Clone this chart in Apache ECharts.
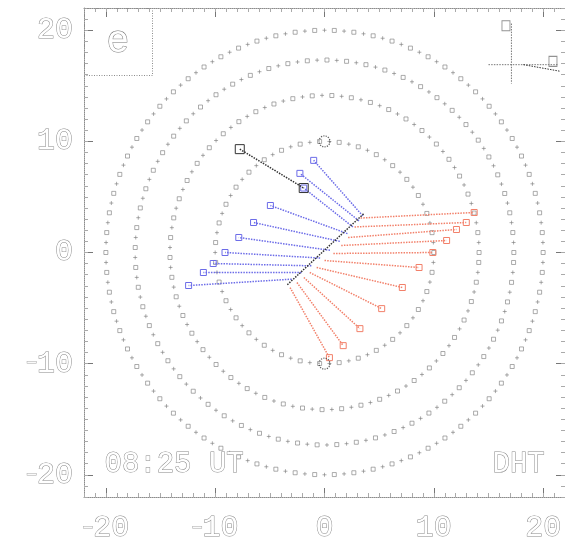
<!DOCTYPE html>
<html>
<head>
<meta charset="utf-8">
<script src="https://cdn.jsdelivr.net/npm/echarts@6/dist/echarts.min.js"></script>
<style>
  html, body { margin: 0; padding: 0; background: #fff; }
  #chart { width: 565px; height: 547px; }
</style>
</head>
<body>
<div id="chart"></div>
<script>
// Axis extent and tick values
const axisMin = -22;
const axisMax = 22;
const majorTicks = [-20, -10, 0, 10, 20];

// Reference circles (radius)
const circleRadii = [10, 14.14, 17.32, 20];

// Central black segment
const diagX = [-3.4, 3.6];
const diagY = [-2.9, 3.5];

// Upper black segment
const upperX = [-7.75, -1.9];
const upperY = [9.3, 5.8];

// Marked points on the inner circle
const poleX = [0, 0];
const poleY = [10, -10];

// Blue traces: start on the central segment, end to the left
const blueStartX = [3.5, 3.15, 2.6, 2.1, 1.4, 0.5, -0.4, -1.2, -2.1, -3.0];
const blueStartY = [3.3, 2.85, 2.3, 1.7, 1.0, 0.2, -0.5, -1.2, -1.8, -2.4];
const blueEndX = [-0.99, -2.25, -1.9, -4.95, -6.49, -7.84, -9.10, -10.18, -11.08, -12.43];
const blueEndY = [8.29, 7.12, 5.8, 4.23, 2.70, 1.35, 0.0, -0.99, -1.80, -2.97];

// Red traces: start on the central segment, end to the right
const redStartX = [3.3, 2.75, 2.16, 1.53, 0.81, 0.0, -0.72, -1.35, -1.89, -2.52, -3.15];
const redStartY = [3.1, 2.3, 1.35, 0.63, -0.09, -0.72, -1.35, -1.80, -2.25, -2.70, -3.15];
const redEndX = [13.69, 12.97, 12.07, 11.17, 9.91, 8.65, 7.12, 5.23, 3.24, 1.71, 0.45];
const redEndY = [3.60, 2.70, 2.07, 1.08, 0.0, -1.35, -3.15, -5.05, -6.85, -8.38, -9.46];

// Orientation cross, upper right
const crossVX = [17.1, 17.1];
const crossVY = [20.6, 15.2];
const crossHX = [15.0, 21.4];
const crossHY = [16.9, 16.9];
const crossTipX = [18.2, 21.6];
const crossTipY = [16.9, 16.3];

const minorTicks = [];
for (let v = axisMin; v <= axisMax; v++) minorTicks.push(v);

const FONT = 'Liberation Mono';
const hollow = { color: '#fff', textBorderColor: '#8a8a8a', textBorderWidth: 1, fontFamily: FONT };
const frameColor = '#8c8c8c';

function tickLabel(v) {
  if (v < 0) return '{m|\u2212}{d|' + Math.abs(v) + '}';
  return '{d|' + v + '}';
}
const labelRich = {
  d: Object.assign({ fontSize: 30 }, hollow),
  m: Object.assign({ fontSize: 18, color: '#fff', textBorderColor: '#aaa', textBorderWidth: 1, fontFamily: FONT })
};

function makeAxis(kind, pos, major) {
  const a = {
    type: 'value', min: axisMin, max: axisMax, position: pos,
    splitLine: { show: false },
    axisLine: { show: major, onZero: false, lineStyle: { color: frameColor, width: 1, type: 'dotted' } },
    axisTick: {
      show: true, inside: true,
      length: major ? 9 : 4,
      customValues: major ? majorTicks : minorTicks,
      lineStyle: { color: major ? '#777' : '#aaa', width: 1 }
    },
    axisLabel: { show: false }
  };
  if (major && (pos === 'bottom' || pos === 'left')) {
    a.axisLabel = {
      show: true, customValues: majorTicks,
      margin: pos === 'bottom' ? 16 : 11,
      formatter: tickLabel, rich: labelRich
    };
  }
  return a;
}

const plusSym = 'path://M0,5L10,5M5,0L5,10';
const boxSym = 'path://M0,0L10,0L10,10L0,10Z';

const series = [];

// Circles drawn as alternating markers
circleRadii.forEach(function (r) {
  const n = Math.round(2 * Math.PI * r / 0.9);
  const pts = [];
  for (let i = 0; i < n; i++) {
    const t = 2 * Math.PI * i / n;
    pts.push([r * Math.cos(t), r * Math.sin(t)]);
  }
  series.push({
    type: 'scatter', data: pts, silent: true, z: 2,
    symbol: function (val, p) { return p.dataIndex % 2 ? plusSym : boxSym; },
    symbolSize: 4,
    itemStyle: { color: 'transparent', borderColor: '#7c7c7c', borderWidth: 0.8 }
  });
});

function trace(xs, ys, color, width, z, endSym, endSize) {
  const data = xs.map(function (x, i) { return [x, ys[i]]; });
  return {
    type: 'line', data: data, silent: true, z: z,
    lineStyle: { color: color, width: width, type: [1.5, 1.2] },
    symbol: function (val, p) { return p.dataIndex === data.length - 1 ? endSym : 'none'; },
    showSymbol: !!endSym, symbolSize: endSize || 6,
    itemStyle: { color: 'transparent', borderColor: color, borderWidth: 1 }
  };
}

blueEndX.forEach(function (x, i) {
  series.push(trace([blueStartX[i], x], [blueStartY[i], blueEndY[i]], '#6c6ce8', 1.5, 4, boxSym, 6));
});
redEndX.forEach(function (x, i) {
  series.push(trace([redStartX[i], x], [redStartY[i], redEndY[i]], '#f2806a', 1.5, 4, boxSym, 6));
});

// Black segments
series.push(trace(diagX, diagY, '#333', 1.5, 5, null));
series.push({
  type: 'line', silent: true, z: 6,
  data: upperX.map(function (x, i) { return [x, upperY[i]]; }),
  lineStyle: { color: '#333', width: 1.5, type: [1.5, 1.2] },
  symbol: boxSym, symbolSize: 9,
  itemStyle: { color: 'transparent', borderColor: '#333', borderWidth: 1 }
});
series.push({
  type: 'scatter', silent: true, z: 6,
  data: poleX.map(function (x, i) { return [x, poleY[i]]; }),
  symbol: 'circle', symbolSize: 11,
  itemStyle: { color: 'transparent', borderColor: '#333', borderWidth: 1.2, borderType: 'dotted' }
});

// Orientation cross
series.push(trace(crossVX, crossVY, '#777', 1, 5, null));
series.push(trace(crossHX, crossHY, '#777', 1, 5, null));
series.push(trace(crossTipX, crossTipY, '#333', 1, 5, null));
series.push({
  type: 'scatter', silent: true, z: 6,
  data: [[crossVX[0] - 0.5, crossVY[0] - 0.2], [crossHX[1] - 0.5, crossHY[0] + 0.3]],
  symbol: boxSym, symbolSize: [8, 10],
  itemStyle: { color: 'transparent', borderColor: '#777', borderWidth: 1 }
});

const chart = echarts.init(document.getElementById('chart'), null, { renderer: 'canvas' });
chart.setOption({
  animation: false,
  backgroundColor: '#fff',
  grid: { left: 84, top: 8, width: 488, height: 489, containLabel: false },
  xAxis: [makeAxis('x', 'bottom', true), makeAxis('x', 'bottom', false), makeAxis('x', 'top', true), makeAxis('x', 'top', false)],
  yAxis: [makeAxis('y', 'left', true), makeAxis('y', 'left', false), makeAxis('y', 'right', true), makeAxis('y', 'right', false)],
  series: series,
  graphic: [
    { type: 'rect', left: 84, top: 8, shape: { width: 68, height: 67 }, z: 10,
      style: { fill: 'transparent', stroke: frameColor, lineWidth: 1, lineDash: [1, 1.5] } },
    { type: 'text', left: 106, top: 22, z: 11,
      style: { text: 'e', fontSize: 38, fill: '#fff', stroke: '#777', lineWidth: 1, fontFamily: FONT } },
    { type: 'text', left: 104, top: 449, z: 11,
      style: { text: '08:25 UT', fontSize: 29, fill: '#fff', stroke: '#888', lineWidth: 1, fontFamily: FONT } },
    { type: 'text', left: 492, top: 449, z: 11,
      style: { text: 'DHT', fontSize: 29, fill: '#fff', stroke: '#888', lineWidth: 1, fontFamily: FONT } }
  ]
});
</script>
</body>
</html>
